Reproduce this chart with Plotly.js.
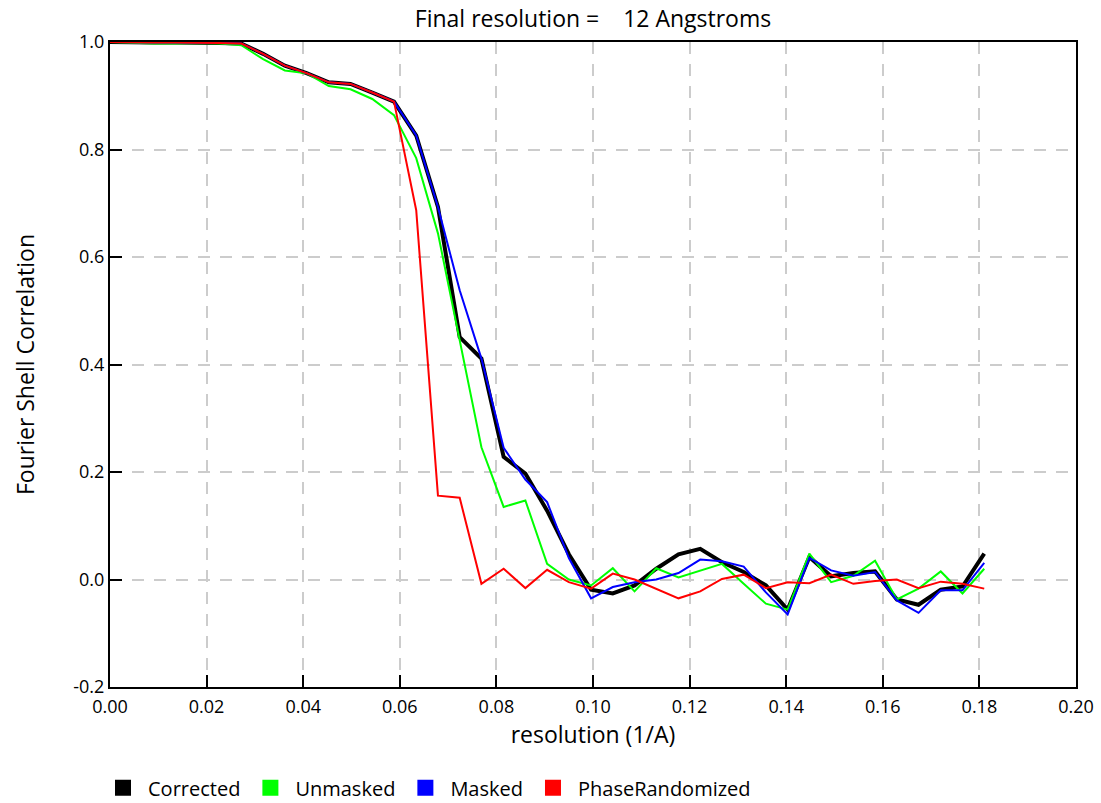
<!DOCTYPE html>
<html>
<head>
<meta charset="utf-8">
<script src="https://cdn.plot.ly/plotly-3.0.1.min.js"></script>
<style>
html,body{margin:0;padding:0;background:#fff;}
#chart{width:1101px;height:803px;}
</style>
</head>
<body>
<div id="chart"></div>
<script>
const resolution = [0, 0.0045, 0.0091, 0.0136, 0.0181, 0.0226, 0.0272, 0.0317, 0.0362, 0.0407,
  0.0453, 0.0498, 0.0543, 0.0588, 0.0634, 0.0679, 0.0724, 0.0769, 0.0815, 0.0860,
  0.0905, 0.0950, 0.0996, 0.1041, 0.1086, 0.1131, 0.1177, 0.1222, 0.1267, 0.1312,
  0.1358, 0.1403, 0.1448, 0.1493, 0.1539, 0.1584, 0.1629, 0.1674, 0.1720, 0.1765, 0.1810];

const corrected = [1.0, 0.999, 0.999, 0.999, 0.999, 0.998, 0.997, 0.978, 0.956, 0.942,
  0.925, 0.922, 0.906, 0.889, 0.826, 0.693, 0.451, 0.411, 0.228, 0.197,
  0.128, 0.047, -0.019, -0.026, -0.011, 0.020, 0.047, 0.057, 0.032, 0.014,
  -0.011, -0.056, 0.042, 0.006, 0.012, 0.015, -0.037, -0.047, -0.019, -0.013, 0.048];

const unmasked = [1.0, 0.998, 0.997, 0.997, 0.998, 0.997, 0.994, 0.968, 0.947, 0.942,
  0.918, 0.912, 0.894, 0.864, 0.784, 0.644, 0.445, 0.246, 0.135, 0.147,
  0.029, 0.000, -0.011, 0.021, -0.022, 0.021, 0.004, 0.017, 0.029, -0.008,
  -0.045, -0.056, 0.048, -0.005, 0.007, 0.035, -0.037, -0.017, 0.015, -0.026, 0.020];

const masked = [1.0, 0.999, 0.999, 0.999, 0.999, 0.998, 0.997, 0.978, 0.956, 0.942,
  0.925, 0.922, 0.906, 0.889, 0.826, 0.693, 0.538, 0.411, 0.245, 0.186,
  0.144, 0.040, -0.035, -0.014, -0.005, 0.000, 0.012, 0.037, 0.034, 0.024,
  -0.024, -0.065, 0.040, 0.017, 0.007, 0.014, -0.039, -0.062, -0.020, -0.020, 0.031];

const phaseRandomized = [1.0, 0.999, 0.999, 0.999, 0.999, 0.998, 0.997, 0.978, 0.956, 0.942,
  0.925, 0.922, 0.906, 0.889, 0.687, 0.156, 0.152, -0.008, 0.020, -0.016,
  0.018, -0.005, -0.017, 0.011, 0.000, -0.017, -0.035, -0.022, 0.001, 0.009,
  -0.016, -0.005, -0.007, 0.009, -0.008, -0.003, 0.000, -0.016, -0.004, -0.008, -0.017];

const seriesNames = ["Corrected", "Unmasked", "Masked", "PhaseRandomized"];
const seriesColors = ["#000000", "#00ff00", "#0000ff", "#ff0000"];
const seriesWidths = [4, 2, 2, 2];
const seriesData = [corrected, unmasked, masked, phaseRandomized];

const xTicks = [0, 0.02, 0.04, 0.06, 0.08, 0.10, 0.12, 0.14, 0.16, 0.18, 0.20];
const xTickText = ["0.00", "0.02", "0.04", "0.06", "0.08", "0.10", "0.12", "0.14", "0.16", "0.18", "0.20"];
const yTicks = [-0.2, 0, 0.2, 0.4, 0.6, 0.8, 1.0];
const yTickText = ["-0.2", "0.0", "0.2", "0.4", "0.6", "0.8", "1.0"];

const FONT = "'Open Sans', 'Noto Sans', sans-serif";

const traces = [];
seriesData.forEach((ys, k) => {
  traces.push({
    x: resolution, y: ys, type: "scatter", mode: "lines",
    name: seriesNames[k], showlegend: false,
    line: {color: seriesColors[k], width: seriesWidths[k]},
    hoverinfo: "x+y+name"
  });
});
seriesNames.forEach((nm, k) => {
  traces.push({
    x: [null], y: [null], type: "scatter", mode: "markers",
    name: nm, showlegend: true,
    marker: {symbol: "square", size: 16, color: seriesColors[k]}
  });
});

const layout = {
  width: 1101, height: 803,
  margin: {l: 110, r: 25, t: 42, b: 116, autoexpand: false},
  paper_bgcolor: "#ffffff", plot_bgcolor: "#ffffff",
  font: {family: FONT, color: "#000", size: 18},
  title: {
    text: "Final resolution =\u00a0\u00a0\u00a0 12 Angstroms",
    x: 0.5, xref: "paper", xanchor: "center",
    y: 0.977, yref: "container", yanchor: "middle",
    font: {family: FONT, size: 23, color: "#000"}
  },
  xaxis: {
    range: [0, 0.2], tickvals: xTicks, ticktext: xTickText,
    ticks: "inside", ticklen: 12, tickwidth: 2, tickcolor: "#000",
    showline: true, linecolor: "#000", linewidth: 2, mirror: true,
    showgrid: true, gridcolor: "#cccccc", gridwidth: 2, griddash: "12px,10px",
    zeroline: false, ticklabelstandoff: 2,
    tickfont: {family: FONT, size: 18, color: "#000"},
    title: {text: "resolution (1/A)", font: {family: FONT, size: 23, color: "#000"}, standoff: 2}
  },
  yaxis: {
    range: [-0.2, 1.0], tickvals: yTicks, ticktext: yTickText,
    ticks: "inside", ticklen: 12, tickwidth: 2, tickcolor: "#000",
    showline: true, linecolor: "#000", linewidth: 2, mirror: true,
    showgrid: true, gridcolor: "#cccccc", gridwidth: 2, griddash: "12px,10px",
    zeroline: false,
    tickfont: {family: FONT, size: 18, color: "#000"},
    title: {text: "Fourier Shell Correlation", font: {family: FONT, size: 23, color: "#000"}, standoff: 32}
  },
  showlegend: true,
  legend: {
    orientation: "h", x: 98 / 1101, xref: "container", xanchor: "left",
    y: 0.019, yref: "container", yanchor: "middle",
    font: {family: FONT, size: 20, color: "#000"},
    bgcolor: "rgba(0,0,0,0)", itemwidth: 40, traceorder: "normal"
  }
};

Plotly.newPlot("chart", traces, layout, {displayModeBar: false, staticPlot: true});
</script>
</body>
</html>
